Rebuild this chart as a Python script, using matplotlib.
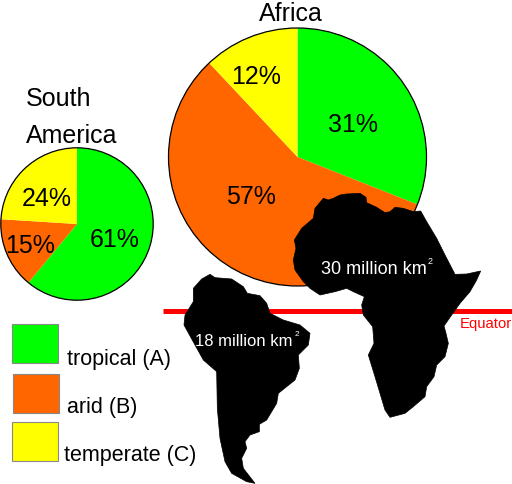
import matplotlib
matplotlib.use("Agg")
import matplotlib.pyplot as plt
from matplotlib.patches import Polygon, Rectangle, Circle

plt.rcParams['font.family'] = ['Liberation Sans', 'DejaVu Sans']

climates = ['tropical (A)', 'arid (B)', 'temperate (C)']
colors = ['#00ff00', '#ff6600', '#ffff00']
africa_shares = [31, 57, 12]
south_america_shares = [61, 15, 24]
africa_area = 30
south_america_area = 18

africa_zoom = [(130,55),(145,60),(160,55),(180,45),(200,42),(240,40),(258,52),(260,68),(290,82),(315,98),(330,95),(345,82),(370,85),(400,95),(422,93),(440,125),(470,175),(495,225),(525,283),(560,282),(602,273),(590,300),(570,335),(540,370),(515,405),(492,438),(498,460),(505,490),(495,530),(470,555),(462,590),(440,620),(435,650),(400,680),(375,700),(330,712),(315,690),(300,640),(285,590),(265,525),(282,490),(278,440),(250,405),(245,375),(253,350),(220,335),(200,325),(165,335),(120,345),(90,325),(70,305),(45,270),(40,240),(48,205),(43,180),(65,145),(100,115),(105,85)]
samerica_zoom = [(100,70),(125,42),(150,28),(165,38),(215,42),(250,65),(262,85),(300,92),(320,115),(330,145),(370,165),(420,180),(450,205),(445,240),(415,270),(418,310),(405,345),(355,385),(350,415),(320,465),(298,478),(298,500),(270,510),(255,530),(260,550),(245,580),(250,610),(285,655),(260,650),(215,625),(195,590),(180,520),(172,430),(170,320),(130,285),(105,240),(72,180),(75,150),(100,110)]

W, H = 512, 484
fig = plt.figure(figsize=(W/100, H/100), dpi=100)
ax = fig.add_axes([0, 0, 1, 1])

wp = dict(edgecolor='none', linewidth=0)
africa_c, africa_r = (297.5, 157), 129
sa_c, sa_r = (77, 224), 76.2
ax.pie(africa_shares, colors=colors, center=africa_c, radius=africa_r,
       startangle=-90, counterclock=True, wedgeprops=wp)
ax.pie(south_america_shares, colors=colors, center=sa_c, radius=sa_r,
       startangle=-90, counterclock=True, wedgeprops=wp)
ax.add_patch(Circle(africa_c, africa_r, fill=False, edgecolor='black', lw=0.9, zorder=2))
ax.add_patch(Circle(sa_c, sa_r, fill=False, edgecolor='black', lw=0.9, zorder=2))
ax.set_xlim(0, W)
ax.set_ylim(H, 0)
ax.set_aspect('equal')
ax.axis('off')

for v, (x, y) in zip(africa_shares, [(353, 125), (251, 197), (256, 77)]):
    ax.text(x, y, f'{v}%', fontsize=18, ha='center', va='center', color='black')
for v, (x, y) in zip(south_america_shares, [(115, 240), (30, 246), (47, 199)]):
    ax.text(x, y, f'{v}%', fontsize=18, ha='center', va='center', color='black')

ax.text(291, 14, 'Africa', fontsize=18, ha='center', va='center')
ax.text(26, 99, 'South', fontsize=18, ha='left', va='center')
ax.text(26, 136, 'America', fontsize=18, ha='left', va='center')

ax.plot([163, 512], [311, 311], color='#ff0000', lw=3.6, solid_capstyle='butt', zorder=3)
ax.text(460, 324, 'Equator', color='#ff0000', fontsize=10.7, ha='left', va='center')

ax.add_patch(Polygon([(280 + x/3, 180 + y/3) for x, y in africa_zoom],
                     closed=True, facecolor='black', edgecolor='black', lw=0.5, zorder=4))
ax.add_patch(Polygon([(160 + x/3, 265 + y/3) for x, y in samerica_zoom],
                     closed=True, facecolor='black', edgecolor='black', lw=0.5, zorder=4))

ax.text(321, 270, f'{africa_area} million km', color='white', fontsize=13, va='center', ha='left', zorder=5)
ax.text(428, 262, '2', color='white', fontsize=6.5, va='center', ha='left', zorder=5)
ax.text(195, 341, f'{south_america_area} million km', color='white', fontsize=12, va='center', ha='left', zorder=5)
ax.text(295, 335, '2', color='white', fontsize=6, va='center', ha='left', zorder=5)

boxes = [(12, 324, 46, 39), (12.5, 374, 46.5, 39), (12, 422, 46, 39)]
label_pos = [(67, 359), (67, 407), (64, 455)]
for name, c, (x, y, w, h), (tx, ty) in zip(climates, colors, boxes, label_pos):
    ax.add_patch(Rectangle((x, y), w, h, facecolor=c, edgecolor='#888888', lw=0.8, zorder=3))
    ax.text(tx, ty, name, fontsize=15.5, ha='left', va='center', color='black')

fig.savefig('out.png', dpi=100)
